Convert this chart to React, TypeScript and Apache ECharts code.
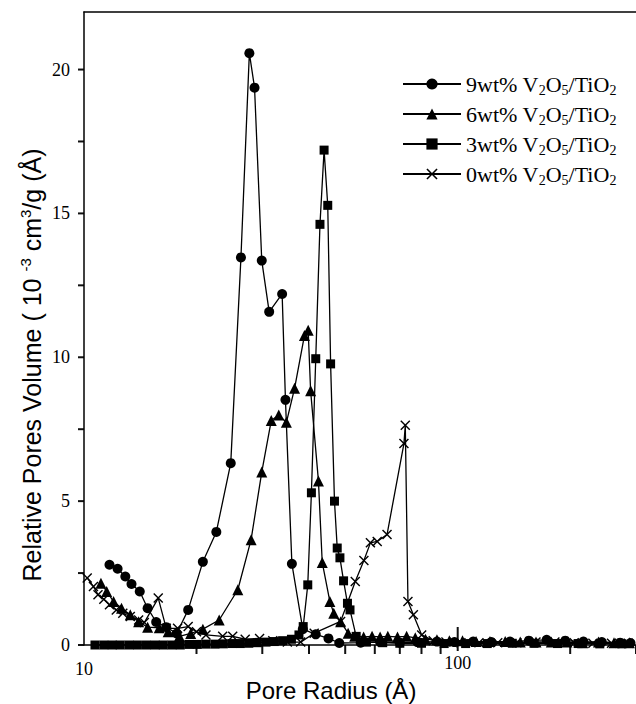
import React, { useEffect, useRef } from "react";
import * as echarts from "echarts";

// ---- data (pore radius in Å, relative pore volume in 1e-3 cm3/g/Å) ----
const r9 = [11.7, 12.3, 12.9, 13.4, 14.1, 14.8, 15.6, 16.6, 17.7, 19.0, 20.8, 22.6, 24.7, 26.3, 27.7, 28.6, 29.9, 31.3, 33.9, 34.6, 36.0, 38.5, 41.7, 45.1, 48.2, 55, 62, 70, 78, 88, 98, 110, 123, 138, 155, 173, 194, 217, 243, 272, 290];
const v9 = [2.79, 2.65, 2.38, 2.12, 1.86, 1.28, 0.8, 0.62, 0.4, 1.22, 2.89, 3.93, 6.32, 13.47, 20.57, 19.37, 13.36, 11.58, 12.2, 8.52, 2.82, 0.55, 0.37, 0.23, 0.07, 0.08, 0.1, 0.08, 0.1, 0.12, 0.1, 0.12, 0.1, 0.12, 0.15, 0.18, 0.15, 0.12, 0.1, 0.08, 0.07];

const r6 = [11.1, 11.5, 12.0, 12.6, 13.3, 14.0, 14.8, 15.9, 16.8, 18.0, 19.3, 20.8, 23.0, 25.8, 28.0, 29.9, 31.7, 33.2, 34.8, 36.6, 38.9, 39.8, 40.4, 42.4, 43.4, 45.5, 46.6, 48.6, 50.9, 53, 56, 59, 62, 65, 69, 73, 77, 82, 88, 95, 103, 112, 122, 134, 147, 162, 178, 196, 216, 238, 262, 288];
const v6 = [2.15, 1.86, 1.51, 1.28, 1.05, 0.81, 0.62, 0.6, 0.46, 0.3, 0.4, 0.55, 0.87, 1.92, 3.66, 6.01, 7.8, 7.99, 7.74, 8.92, 10.76, 10.94, 8.84, 5.7, 2.87, 1.51, 1.1, 0.81, 0.41, 0.3, 0.28, 0.3, 0.28, 0.3, 0.28, 0.3, 0.25, 0.2, 0.18, 0.15, 0.15, 0.12, 0.12, 0.12, 0.1, 0.1, 0.1, 0.1, 0.08, 0.1, 0.08, 0.08];

const r3 = [10.7, 11.3, 11.9, 12.5, 13.2, 13.9, 14.7, 15.5, 16.3, 17.2, 18.1, 19.1, 20.1, 21.2, 22.4, 23.6, 24.9, 26.2, 27.6, 29.1, 30.7, 32.3, 34.0, 35.9, 37.6, 38.6, 39.7, 40.6, 41.7, 42.8, 43.9, 44.9, 45.7, 46.8, 47.6, 48.4, 49.5, 50.7, 51.5, 53.5, 57, 63, 70, 80, 92, 105, 120, 140, 160, 185, 210, 240, 275];
const v3 = [0, 0, 0, 0, 0, 0, 0, 0, 0, 0, 0, 0.02, 0.02, 0.03, 0.03, 0.04, 0.05, 0.05, 0.06, 0.08, 0.1, 0.12, 0.15, 0.2, 0.35, 0.64, 2.09, 5.29, 9.95, 14.62, 17.2, 15.28, 9.77, 5.0, 3.37, 3.03, 2.23, 1.45, 1.22, 0.3, 0.1, 0.08, 0.06, 0.06, 0.05, 0.05, 0.05, 0.06, 0.06, 0.05, 0.05, 0.04, 0.04];

const r0 = [10.2, 10.6, 10.9, 11.3, 11.7, 12.2, 12.7, 13.3, 14.0, 14.5, 15.8, 16.6, 17.8, 19.0, 20.0, 21.2, 23.5, 25.0, 27.0, 29.5, 32.0, 35.0, 38.0, 41.3, 48.6, 53.2, 56.1, 58.4, 60.9, 64.7, 71.8, 72.4, 73.6, 76.1, 80.1, 86, 93, 102, 114, 128, 144, 162, 182, 205, 230, 258, 286];
const v0 = [2.33, 2.03, 1.75, 1.59, 1.4, 1.22, 1.1, 0.99, 0.87, 0.78, 1.63, 0.58, 0.58, 0.64, 0.46, 0.35, 0.3, 0.3, 0.2, 0.23, 0.15, 0.1, 0.1, 0.41, 0.82, 2.21, 2.94, 3.55, 3.6, 3.84, 7.0, 7.64, 1.51, 1.05, 0.35, 0.15, 0.1, 0.08, 0.08, 0.08, 0.08, 0.1, 0.1, 0.08, 0.06, 0.06, 0.06];

const seriesNames = ["9wt% V2O5/TiO2", "6wt% V2O5/TiO2", "3wt% V2O5/TiO2", "0wt% V2O5/TiO2"];
const xLabelValues = [10, 100];
const xMinorTicks = [20, 30, 40, 50, 60, 70, 80, 90, 200, 300];
const xMajorTicks = [100];
const yLabelValues = [0, 5, 10, 15, 20];
const yTickValues = [0, 2.5, 5, 7.5, 10, 12.5, 15, 17.5, 20];

const SERIF = "Liberation Serif";
const SANS = "Liberation Sans";
const CROSS = "path://M1,0 L5,4 L9,0 L10,1 L6,5 L10,9 L9,10 L5,6 L1,10 L0,9 L4,5 L0,1 Z";

const zip = (xs: number[], ys: number[]) => xs.map((x, i) => [x, ys[i]]);

export default function App() {
  const ref = useRef<HTMLDivElement>(null);
  useEffect(() => {
    if (!ref.current) return;
    const chart = echarts.init(ref.current, null, { renderer: "svg" });
    const line = (name: string, data: number[][], symbol: string, size: number) => ({
      name,
      type: "line",
      data,
      symbol,
      symbolSize: size,
      showSymbol: true,
      showAllSymbol: true,
      lineStyle: { color: "#000", width: 1.3 },
      itemStyle: { color: "#000" },
    });
    const option: any = {
      animation: false,
      grid: { left: 84, top: 12, right: 0, bottom: 59 },
      xAxis: [
        {
          type: "log",
          logBase: 10,
          min: 10,
          max: 300,
          position: "bottom",
          splitLine: { show: false },
          axisLine: { show: true, lineStyle: { color: "#000", width: 1.5 } },
          axisTick: { show: false },
          axisLabel: {
            customValues: xLabelValues,
            formatter: (v: number) => (v < 50 ? "{a|" + v + "}" : "{b|" + v + "}"),
            rich: {
              a: { fontFamily: SERIF, fontSize: 18, color: "#000", padding: [6, 0, 0, 0] },
              b: { fontFamily: SERIF, fontSize: 18, color: "#000" },
            },
            margin: 9,
          },
        },
        {
          type: "log",
          logBase: 10,
          min: 10,
          max: 300,
          position: "top",
          splitLine: { show: false },
          axisLine: { show: true, lineStyle: { color: "#000", width: 1.5 } },
          axisTick: { show: false },
          axisLabel: { show: false },
        },
      ],
      yAxis: {
        type: "value",
        min: 0,
        max: 22,
        axisLine: { show: true, lineStyle: { color: "#000", width: 1.5 } },
        axisTick: { show: false },
        axisLabel: { customValues: yLabelValues, fontFamily: SERIF, fontSize: 18, color: "#000", margin: 14 },
        splitLine: { show: false },
      },
      legend: {
        orient: "vertical",
        left: 397,
        top: 68,
        itemWidth: 58,
        itemHeight: 14,
        itemGap: 6,
        data: seriesNames,
        formatter: (name: string) => {
          const pct = name.split(" ")[0];
          return "{n|" + pct + " V}{s|2}{n|O}{s|5}{n|/TiO}{s|2}";
        },
        textStyle: {
          rich: {
            n: { fontFamily: SERIF, fontSize: 22, color: "#000", lineHeight: 26 },
            s: { fontFamily: SERIF, fontSize: 14, color: "#000", lineHeight: 12, verticalAlign: "bottom" },
          },
        },
      },
      graphic: [
        {
          id: "xtitle",
          type: "text",
          x: 331,
          y: 690,
          style: { text: "Pore Radius (Å)", fontFamily: SANS, fontSize: 24, fill: "#000", align: "center", verticalAlign: "middle" },
        },
        {
          id: "ytitle",
          type: "text",
          x: 32,
          y: 365,
          rotation: Math.PI / 2,
          style: {
            text: "{a|Relative Pores Volume ( 10 }{p|-3}{a| cm}{p|3}{a|/g (Å)}",
            align: "center",
            verticalAlign: "middle",
            rich: {
              a: { fontFamily: SANS, fontSize: 25, fill: "#000", lineHeight: 28 },
              p: { fontFamily: SANS, fontSize: 15, fill: "#000", lineHeight: 15, verticalAlign: "top" },
            },
          },
        },
      ],
      series: [
        line(seriesNames[0], zip(r9, v9), "circle", 10),
        line(seriesNames[1], zip(r6, v6), "triangle", 11),
        line(seriesNames[2], zip(r3, v3), "rect", 9),
        line(seriesNames[3], zip(r0, v0), CROSS, 10),
      ],
    };
    chart.setOption(option);

    // tick marks placed through the axes' own scales
    const finder = { gridIndex: 0 };
    const ticks: any[] = [];
    const tick = (id: string, pt: any, x0: number, y0: number, w: number, h: number) => {
      if (!pt) return;
      const x = Number(pt[0]);
      const y = Number(pt[1]);
      if (!isFinite(x) || !isFinite(y)) return;
      ticks.push({ id, type: "rect", shape: { x: x + x0, y: y + y0, width: w, height: h }, style: { fill: "#111" } });
    };
    xMinorTicks.forEach((x, i) => tick("t" + i, chart.convertToPixel(finder, [x, 0]), -1, 0, 2, 9));
    xMajorTicks.forEach((x, i) => tick("M" + i, chart.convertToPixel(finder, [x, 0]), -1, -18, 2, 24));
    yTickValues.forEach((y, i) => tick("y" + i, chart.convertToPixel(finder, [10, y]), -6, -1, 6, 2));
    chart.setOption({ graphic: ticks });
    return () => chart.dispose();
  }, []);
  return <div ref={ref} style={{ position: "absolute", left: 0, top: 0, width: 636, height: 704, background: "#fff" }} />;
}
